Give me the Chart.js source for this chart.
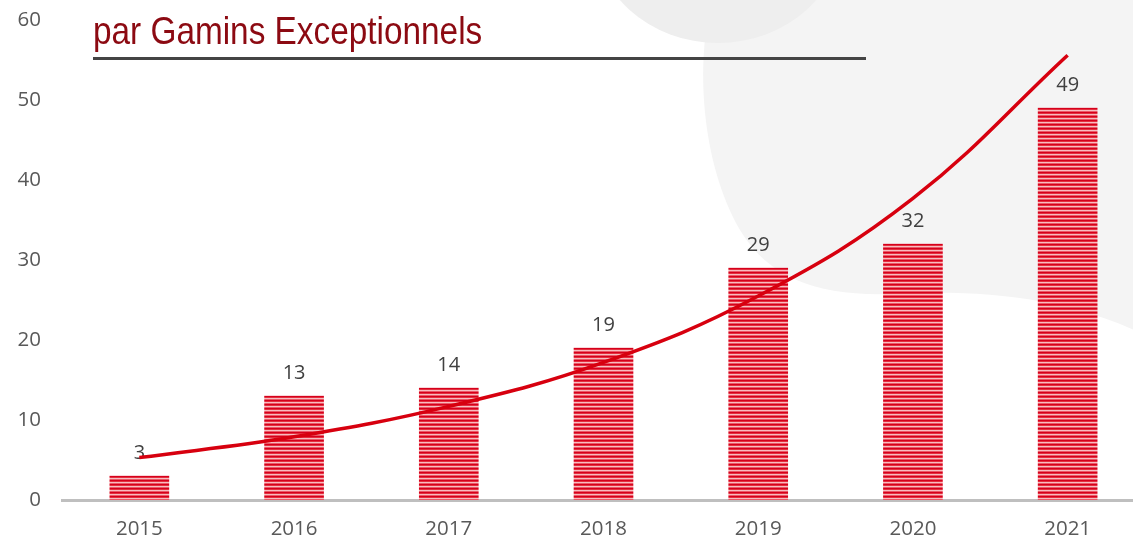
<!DOCTYPE html>
<html>
<head>
<meta charset="utf-8">
<script src="https://cdn.jsdelivr.net/npm/chart.js@4.4.1/dist/chart.umd.min.js"></script>
<style>
  html, body { margin: 0; padding: 0; background: #ffffff; overflow: hidden; }
  #wrap { position: relative; width: 1133px; height: 541px; overflow: hidden; }
  #box { position: absolute; left: 0; top: 0; width: 1145px; height: 541px; }
  #title { position: absolute; left: 93px; top: 8px; font-family: "Liberation Sans", sans-serif;
           font-size: 39px; color: #8c0a12; white-space: nowrap; line-height: 46px;
           transform: scaleX(0.855); transform-origin: 0 0; }
  #rule { position: absolute; left: 93px; top: 57px; width: 773px; height: 3px; background: #444; }
</style>
</head>
<body>
<div id="wrap">
  <div id="box"><canvas id="c" width="1145" height="541"></canvas></div>
  <div id="title">par Gamins Exceptionnels</div>
  <div id="rule"></div>
</div>
<script>
const years = ["2015", "2016", "2017", "2018", "2019", "2020", "2021"];
const counts = [3, 13, 14, 19, 29, 32, 49];
const trend = [5.3, 7.9, 11.7, 17.2, 25.5, 37.7, 55.6];
const yTicks = [0, 10, 20, 30, 40, 50, 60];

// striped bar fill
const pc = document.createElement('canvas');
pc.width = 1; pc.height = 4;
const pctx = pc.getContext('2d');
const stripes = ['#d5001c', '#e4303f', '#f7bcc1', '#ea5a67'];
stripes.forEach((c, i) => { pctx.fillStyle = c; pctx.fillRect(0, i, 1, 1); });
const ctx = document.getElementById('c').getContext('2d');
const pattern = ctx.createPattern(pc, 'repeat');

const bgPlugin = {
  id: 'bg',
  beforeDraw(chart) {
    const g = chart.ctx;
    g.save();
    g.fillStyle = '#ffffff';
    g.fillRect(0, 0, chart.width, chart.height);
    g.fillStyle = '#f4f4f4';
    g.beginPath();
    g.moveTo(712, 0);
    g.bezierCurveTo(696, 60, 700, 160, 740, 230);
    g.bezierCurveTo(770, 280, 820, 296, 890, 294);
    g.bezierCurveTo(980, 290, 1060, 295, 1145, 335);
    g.lineTo(1145, 0);
    g.closePath();
    g.fill();
    g.fillStyle = '#eeeeee';
    g.beginPath();
    g.ellipse(718, -70, 125, 113, 0, 0, Math.PI * 2);
    g.fill();
    g.restore();
  }
};

const labelPlugin = {
  id: 'vals',
  afterDatasetDraw(chart, args) {
    if (args.index !== 0) return;
    const g = chart.ctx;
    const meta = chart.getDatasetMeta(0);
    g.save();
    g.fillStyle = '#404040';
    g.font = '20px "Open Sans"';
    g.textAlign = 'center';
    g.textBaseline = 'middle';
    meta.data.forEach((bar, i) => {
      g.fillText(String(counts[i]), bar.x, bar.y - 23);
    });
    g.restore();
  }
};

new Chart(ctx, {
  data: {
    labels: years,
    datasets: [
      {
        type: 'bar',
        data: counts,
        backgroundColor: pattern,
        borderWidth: 0,
        barThickness: 59,
        order: 2
      },
      {
        type: 'line',
        data: trend,
        borderColor: '#d7000f',
        borderWidth: 3.5,
        pointRadius: 0,
        tension: 0.4,
        fill: false,
        order: 1
      }
    ]
  },
  options: {
    responsive: false,
    animation: false,
    events: [],
    layout: { padding: { top: 20, right: 0, left: 0, bottom: 0 } },
    plugins: { legend: { display: false }, tooltip: { enabled: false }, title: { display: false } },
    scales: {
      x: {
        grid: { display: false, drawTicks: false },
        border: { display: true, color: '#bfbfbf', width: 3 },
        ticks: { color: '#595959', font: { family: 'Open Sans', size: 20.5 }, padding: 17 },
        afterFit(s) { s.height = 41; s.paddingLeft = 0; s.paddingRight = 0; }
      },
      y: {
        min: 0, max: 60,
        afterBuildTicks(s) { s.ticks = yTicks.map(v => ({ value: v })); },
        grid: { display: false, drawTicks: false },
        border: { display: false },
        ticks: { color: '#595959', font: { family: 'Open Sans', size: 20.5 }, padding: 21 },
        afterFit(s) { s.width = 62; s.paddingTop = 0; s.paddingBottom = 0; }
      }
    }
  },
  plugins: [bgPlugin, labelPlugin]
});
</script>
</body>
</html>
